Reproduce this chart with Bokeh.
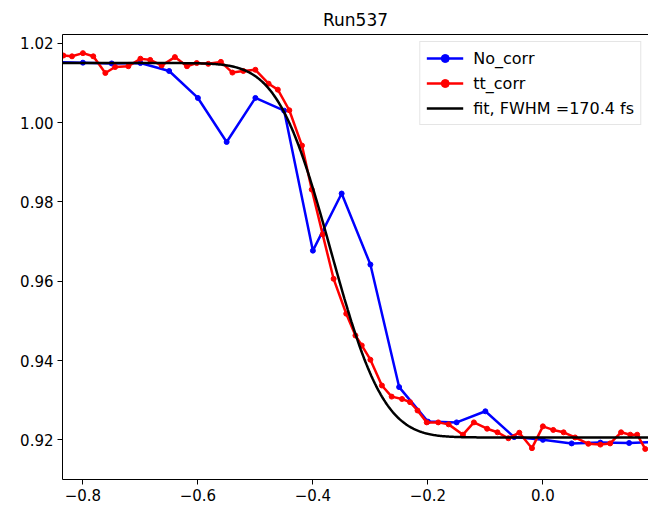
import math

import numpy as np
from bokeh.embed import file_html
from bokeh.models import FixedTicker, Legend, LegendItem, LinearAxis, Range1d
from bokeh.plotting import figure
from bokeh.resources import INLINE

run_title = "Run537"

# Delay (ps) and normalised signal, no timing-tool correction
no_corr_delay = [-0.85, -0.80, -0.75, -0.70, -0.65, -0.60, -0.55, -0.50, -0.45, -0.40,
                 -0.35, -0.30, -0.25, -0.20, -0.15, -0.10, -0.05, 0.00, 0.05, 0.10,
                 0.15, 0.20]
no_corr_signal = [1.0152, 1.0151, 1.0149, 1.0150, 1.0130, 1.0062, 0.9951, 1.0062, 1.0030, 0.9677,
                  0.9821, 0.9642, 0.9333, 0.9246, 0.9244, 0.9272, 0.9207, 0.9200, 0.9191, 0.9193,
                  0.9192, 0.9195]

# Timing-tool corrected, re-binned delays (ps) and signal
tt_delay = [-0.834, -0.819, -0.800, -0.782, -0.761, -0.744, -0.721, -0.700, -0.683, -0.663,
            -0.640, -0.619, -0.602, -0.582, -0.560, -0.540, -0.521, -0.500, -0.477, -0.461,
            -0.441, -0.419, -0.402, -0.383, -0.364, -0.342, -0.326, -0.315, -0.300, -0.280,
            -0.263, -0.245, -0.231, -0.218, -0.202, -0.182, -0.164, -0.139, -0.120, -0.097,
            -0.079, -0.060, -0.041, -0.019, 0.000, 0.018, 0.036, 0.056, 0.079, 0.100,
            0.117, 0.136, 0.152, 0.164, 0.178]
tt_signal = [1.0169, 1.0167, 1.0175, 1.0167, 1.0125, 1.0140, 1.0142, 1.0161, 1.0158, 1.0144,
             1.0165, 1.0142, 1.0150, 1.0148, 1.0153, 1.0126, 1.0130, 1.0133, 1.0098, 1.0083,
             1.0031, 0.9942, 0.9831, 0.9718, 0.9606, 0.9518, 0.9463, 0.9438, 0.9402, 0.9337,
             0.9309, 0.9303, 0.9295, 0.9274, 0.9244, 0.9244, 0.9239, 0.9213, 0.9244, 0.9228,
             0.9219, 0.9204, 0.9218, 0.9179, 0.9234, 0.9225, 0.9219, 0.9206, 0.9190, 0.9188,
             0.9191, 0.9219, 0.9213, 0.9213, 0.9177]

# Error-function step fit parameters
fit_high = 1.0150
fit_low = 0.9206
fit_t0 = -0.369
fit_fwhm_fs = 170.4

x_ticks = [-0.8, -0.6, -0.4, -0.2, 0.0]
x_tick_labels = ["\u22120.8", "\u22120.6", "\u22120.4", "\u22120.2", "0.0"]
y_ticks = [0.92, 0.94, 0.96, 0.98, 1.00, 1.02]
y_tick_labels = ["0.92", "0.94", "0.96", "0.98", "1.00", "1.02"]

x_lo, x_hi = -0.8355, 0.1837
y_lo, y_hi = 0.910, 1.0222

FONT = "DejaVu Sans"

# Fit curve evaluated from the fitted parameters (FWHM in fs -> sigma in ps)
sigma_ps = fit_fwhm_fs / 1000.0 / (2.0 * math.sqrt(2.0 * math.log(2.0)))
fit_x = np.linspace(x_lo, x_hi, 500)
fit_y = [fit_low + (fit_high - fit_low) * 0.5 *
         (1.0 - math.erf((t - fit_t0) / (math.sqrt(2.0) * sigma_ps))) for t in fit_x]

p = figure(width=648, height=506, output_backend="svg", toolbar_location=None,
           x_range=Range1d(x_lo, x_hi), y_range=Range1d(y_lo, y_hi),
           title=run_title,
           min_border_left=62, min_border_right=0, min_border_top=34, min_border_bottom=27)

p.background_fill_color = "white"
p.border_fill_color = "white"
p.outline_line_color = None
p.xgrid.visible = False
p.ygrid.visible = False

p.title.align = "center"
p.title.text_font = FONT
p.title.text_font_size = "17px"
p.title.text_font_style = "normal"
p.title.text_color = "black"

for ax, ticks, labels in ((p.xaxis[0], x_ticks, x_tick_labels), (p.yaxis[0], y_ticks, y_tick_labels)):
    ax.ticker = FixedTicker(ticks=ticks)
    ax.major_label_overrides = {t: s for t, s in zip(ticks, labels)}
    ax.major_label_text_font = FONT
    ax.major_label_text_font_size = "15px"
    ax.major_label_text_color = "black"
    ax.major_label_standoff = 4
    ax.major_tick_in = 0
    ax.major_tick_out = 5
    ax.major_tick_line_color = "black"
    ax.minor_tick_line_color = None
    ax.axis_line_color = "black"
    ax.axis_line_width = 1

# top spine
top_axis = LinearAxis(ticker=FixedTicker(ticks=[]), major_label_text_font_size="0px",
                      major_tick_line_color=None, minor_tick_line_color=None,
                      major_label_standoff=0, axis_line_color="black", axis_line_width=1)
p.add_layout(top_axis, "above")

blue_line = p.line(no_corr_delay, no_corr_signal, line_color="#0000ff", line_width=2.5)
blue_dots = p.scatter(no_corr_delay, no_corr_signal, marker="circle", size=5,
                      fill_color="#0000ff", line_color="#0000ff")
red_line = p.line(tt_delay, tt_signal, line_color="#ff0000", line_width=2.5)
red_dots = p.scatter(tt_delay, tt_signal, marker="circle", size=5,
                     fill_color="#ff0000", line_color="#ff0000")
fit_line = p.line(fit_x, fit_y, line_color="black", line_width=2.5)

legend = Legend(items=[
    LegendItem(label="No_corr", renderers=[blue_line, blue_dots]),
    LegendItem(label="tt_corr", renderers=[red_line, red_dots]),
    LegendItem(label=f"fit, FWHM ={fit_fwhm_fs} fs", renderers=[fit_line]),
], location="top_right", margin=7)
legend.label_text_font = FONT
legend.label_text_font_size = "16px"
legend.label_text_color = "black"
legend.glyph_width = 37
legend.glyph_height = 20
legend.label_height = 20
legend.label_standoff = 10
legend.spacing = 5
legend.padding = 6
legend.border_line_color = "#cccccc"
legend.border_line_width = 1
legend.background_fill_color = "white"
legend.background_fill_alpha = 0.8
p.add_layout(legend)

open("out.html", "w").write(file_html(p, INLINE))
